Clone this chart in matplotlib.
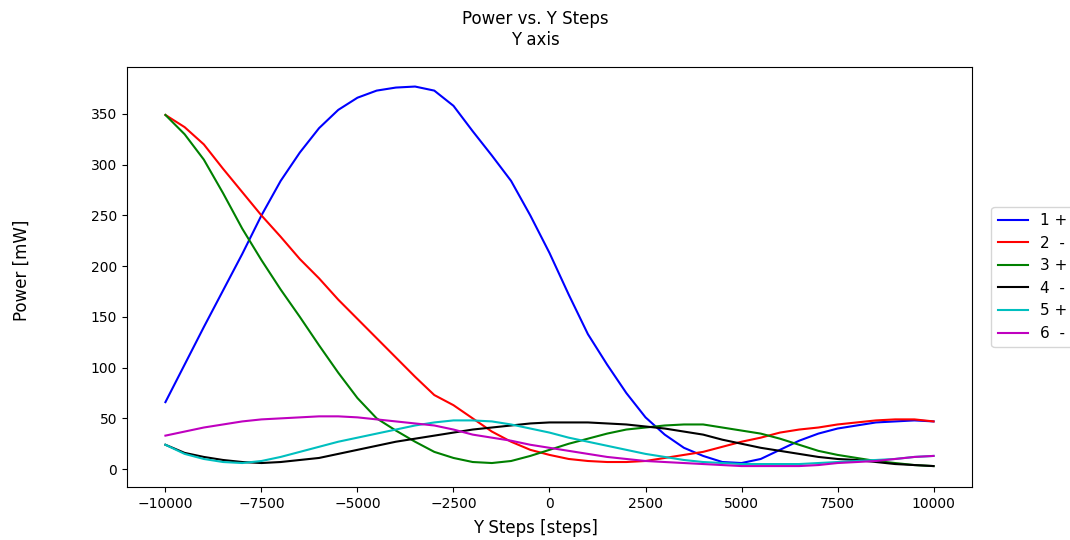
import numpy as np
import matplotlib
matplotlib.use('Agg')
import matplotlib.pyplot as plt

# step positions (read every 500 steps)
steps = np.arange(-10000, 10001, 500)

# power readings [mW] per detector
p1 = [66, 103, 140, 176, 212, 250, 284, 312, 336, 354, 366, 373, 376, 377, 373, 358,
      333, 309, 284, 250, 213, 172, 133, 103, 75, 51, 34, 21, 13, 7, 6, 10,
      19, 28, 35, 40, 43, 46, 47, 48, 47]
p2 = [349, 337, 320, 296, 273, 250, 229, 207, 188, 167, 148, 129, 110, 91, 73, 63,
      50, 37, 27, 19, 14, 10, 8, 7, 7, 8, 11, 14, 17, 22, 27, 31,
      36, 39, 41, 44, 46, 48, 49, 49, 47]
p3 = [349, 330, 305, 272, 237, 206, 177, 150, 122, 95, 70, 50, 38, 27, 17, 11,
      7, 6, 8, 13, 19, 25, 30, 35, 39, 41, 43, 44, 44, 41, 38, 35,
      30, 24, 18, 14, 11, 8, 6, 4, 3]
p4 = [24, 16, 12, 9, 7, 6, 7, 9, 11, 15, 19, 23, 27, 30, 33, 36,
      39, 41, 43, 45, 46, 46, 46, 45, 44, 42, 40, 37, 34, 29, 25, 21,
      18, 15, 12, 10, 9, 7, 5, 4, 3]
p5 = [24, 15, 10, 7, 6, 8, 12, 17, 22, 27, 31, 35, 39, 43, 46, 48,
      48, 47, 44, 40, 36, 31, 27, 23, 19, 15, 12, 9, 7, 6, 5, 5,
      5, 5, 6, 7, 8, 9, 10, 12, 13]
p6 = [33, 37, 41, 44, 47, 49, 50, 51, 52, 52, 51, 49, 47, 45, 43, 39,
      34, 31, 28, 24, 21, 18, 15, 12, 10, 8, 7, 6, 5, 4, 3, 3,
      3, 3, 4, 6, 7, 8, 10, 12, 13]

series = [p1, p2, p3, p4, p5, p6]
labels = ['1 +', '2  -', '3 +', '4  -', '5 +', '6  -']
colors = ['b', 'r', 'g', 'k', 'c', 'm']

fig = plt.figure(figsize=(10.7, 5.4), dpi=100)
ax = fig.add_axes([0.1187, 0.098, 0.7897, 0.778])

for vals, lab, col in zip(series, labels, colors):
    ax.plot(steps, vals, color=col, label=lab, linewidth=1.5)

ax.set_ylim(-17.7, 396.3)
ax.legend(loc='center left', bbox_to_anchor=(1.014, 0.5), fontsize=11)
fig.suptitle('Power vs. Y Steps\nY axis', fontsize=12, y=0.982)
fig.supxlabel('Y Steps [steps]', fontsize=12, y=0.005)
fig.supylabel('Power [mW]', fontsize=12, x=0.012)

fig.savefig('out.png', dpi=100)
